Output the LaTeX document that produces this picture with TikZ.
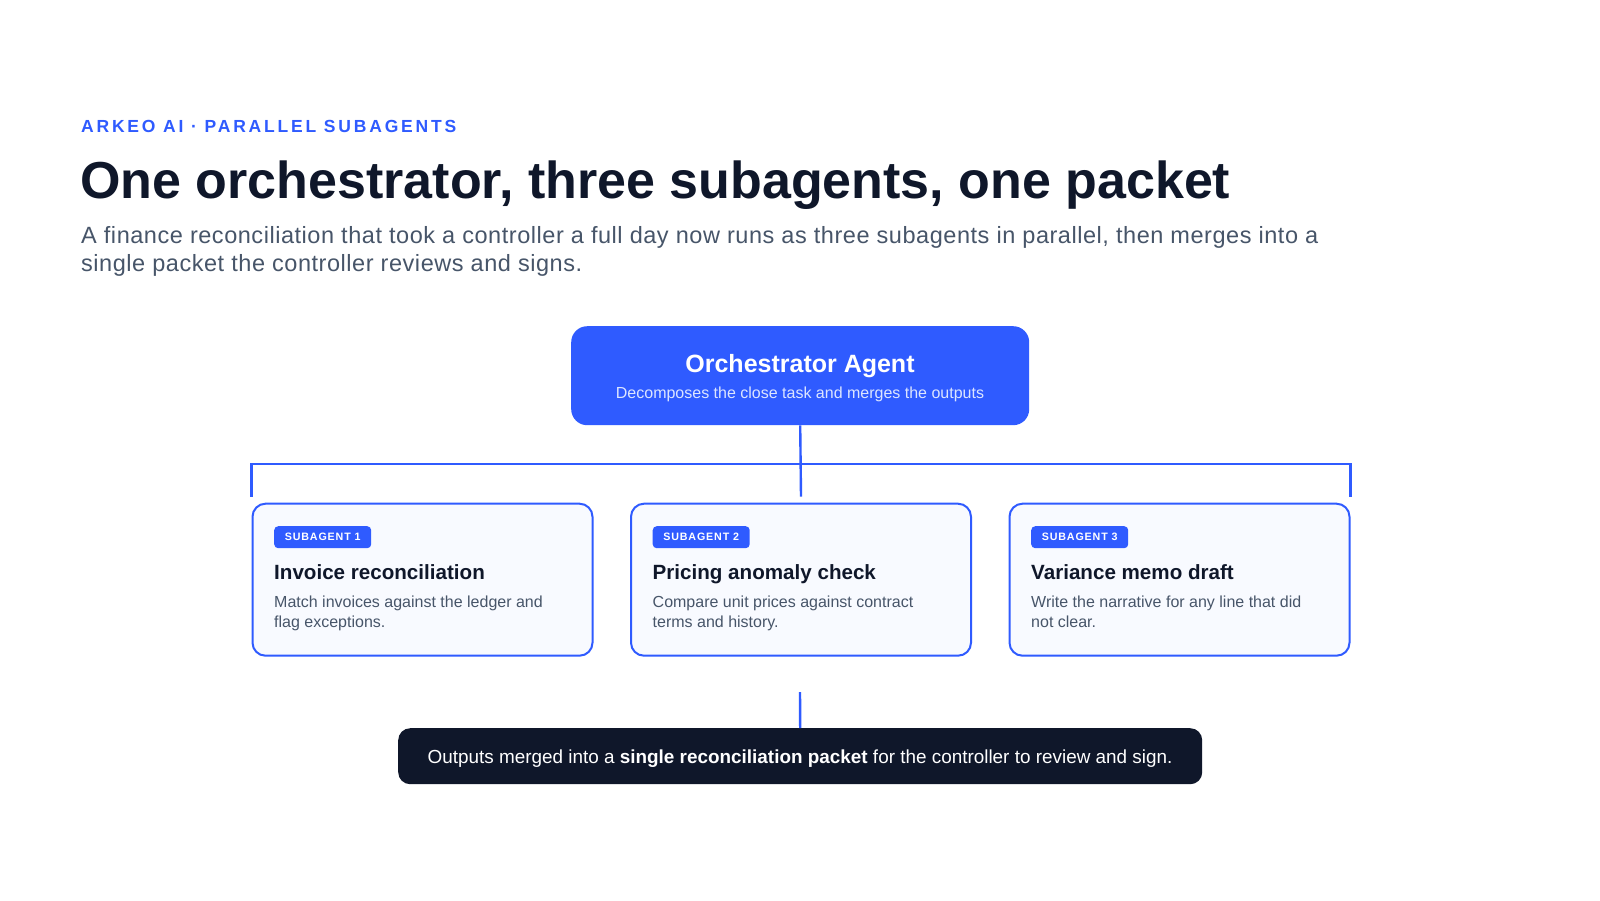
\documentclass[tikz,border=0pt]{standalone}
\usepackage{fontspec}
\setmainfont{Liberation Sans}
\newfontfamily\trackfont[LetterSpace=16]{Liberation Sans}
\newfontfamily\badgefont[LetterSpace=8]{Liberation Sans}
\newfontfamily\leadfont[LetterSpace=2.3]{Liberation Sans}
\definecolor{brand}{HTML}{2F5BFF}
\definecolor{ink}{HTML}{0F172A}
\definecolor{slate}{HTML}{475569}
\definecolor{boxfill}{HTML}{F8FAFF}
\definecolor{pale}{HTML}{DCE5FF}
\newcommand{\fsz}[1]{\fontsize{#1}{#1}\selectfont}
\tikzset{
  txt/.style={inner sep=0pt, anchor=base west},
  conn/.style={draw=brand, line width=2.4pt},
  subbox/.style={draw=brand, line width=2pt, fill=boxfill, rounded corners=13pt,
    minimum width=340pt, minimum height=152pt, anchor=north west, inner sep=0pt},
  badge/.style={fill=brand, rounded corners=4pt, minimum width=97pt, minimum height=22pt,
    anchor=north west, inner sep=0pt, text=white, font=\badgefont\bfseries\fsz{10.7}},
  cardhead/.style={txt, text=ink, font=\bfseries\fsz{20.6}},
  cardbody/.style={txt, text=slate, font=\fsz{16}},
}
\begin{document}
\begin{tikzpicture}[x=1pt,y=-1pt]
\useasboundingbox[fill=white] (0,0) rectangle (1600,900);

% header
\node[txt, text=brand, font=\trackfont\bfseries\fsz{17.5}] (tag) at (81,132) {ARKEO AI · PARALLEL SUBAGENTS};
\node[txt, text=ink, font=\bfseries\fsz{52}] (title) at (80,198.3) {One orchestrator, three subagents, one packet};
\node[txt, text=slate, font=\leadfont\fsz{23.5}] (sub1) at (81,243.3) {A finance reconciliation that took a controller a full day now runs as three subagents in parallel, then merges into a};
\node[txt, text=slate, font=\leadfont\fsz{23.5}] (sub2) at (81,271.7) {single packet the controller reviews and signs.};

% orchestrator
\node[fill=brand, rounded corners=16pt, minimum width=458pt, minimum height=99pt, anchor=north west, inner sep=0pt] (orch) at (571,326) {};
\node[inner sep=0pt, anchor=base, text=white, font=\bfseries\fsz{25}] (orchT) at (800,372.7) {Orchestrator Agent};
\node[inner sep=0pt, anchor=base, text=pale, font=\fsz{16}] (orchS) at (800,398.3) {Decomposes the close task and merges the outputs};

% subagent cards
\node[subbox] (sa1) at (251.5,502.7) {};
\node[subbox] (sa2) at (630,502.7) {};
\node[subbox] (sa3) at (1008.5,502.7) {};

\node[badge] (b1) at (274,526) {SUBAGENT 1};
\node[cardhead] (h1) at (274,579.3) {Invoice reconciliation};
\node[cardbody] (t1a) at (274,607.3) {Match invoices against the ledger and};
\node[cardbody] (t1b) at (274,627.3) {flag exceptions.};

\node[badge] (b2) at (652.5,526) {SUBAGENT 2};
\node[cardhead] (h2) at (652.5,579.3) {Pricing anomaly check};
\node[cardbody] (t2a) at (652.5,607.3) {Compare unit prices against contract};
\node[cardbody] (t2b) at (652.5,627.3) {terms and history.};

\node[badge] (b3) at (1031,526) {SUBAGENT 3};
\node[cardhead] (h3) at (1031,579.3) {Variance memo draft};
\node[cardbody] (t3a) at (1031,607.3) {Write the narrative for any line that did};
\node[cardbody] (t3b) at (1031,627.3) {not clear.};

% packet
\node[fill=ink, rounded corners=12pt, minimum width=804pt, minimum height=56pt, anchor=north west, inner sep=0pt] (packet) at (398,728) {};
\node[inner sep=0pt, anchor=base, text=white, font=\fsz{18.9}] (packetT) at (800,763.3) {Outputs merged into a \textbf{single reconciliation packet} for the controller to review and sign.};

% connectors
\coordinate (mergetop) at (800,692);
\draw[conn] ([yshift=6pt]sa1.north west) -- ([yshift=39pt]sa1.north west) -- ([yshift=39pt]sa3.north east) -- ([yshift=6pt]sa3.north east);
\draw[conn] (orch.south) -- ([yshift=6pt]sa2.north);
\draw[conn] (mergetop) -- (packet.north);
\end{tikzpicture}
\end{document}
